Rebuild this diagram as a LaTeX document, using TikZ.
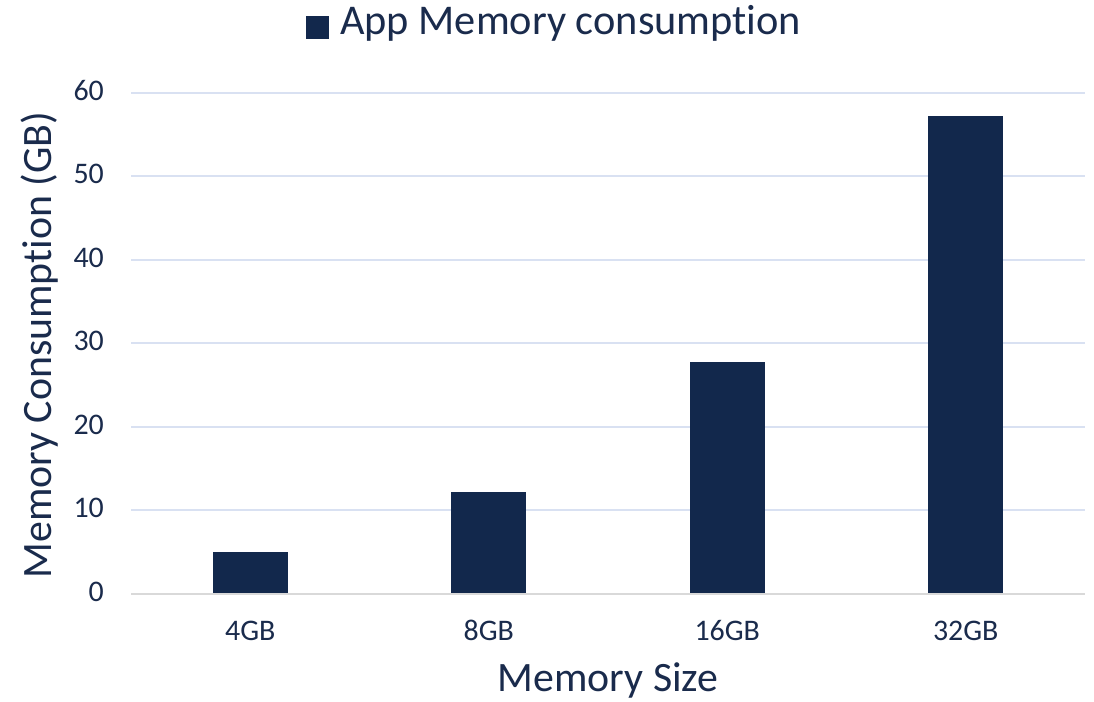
\documentclass[tikz,border=0pt]{standalone}
\usepackage{fontspec}
\setmainfont{Carlito}[Ligatures={NoCommon}]
\begin{document}
\begin{tikzpicture}[x=1bp,y=-1bp,
  ticklbl/.style={text=txtblue,font=\fontsize{30}{32}\selectfont,inner sep=0pt},
  titlelbl/.style={text=txtblue,font=\fontsize{42}{46}\selectfont,inner sep=0pt},
  grid/.style={draw=gridblue,line width=2bp},
  barbox/.style={fill=barblue,draw=none,inner sep=0pt,minimum width=75bp,anchor=south}]
\definecolor{barblue}{HTML}{12284C}
\definecolor{txtblue}{HTML}{1A2B4C}
\definecolor{gridblue}{HTML}{D9E1F2}
\definecolor{basegray}{HTML}{D9D9D9}
\useasboundingbox[fill=white] (0,0) rectangle (1094,702);
% horizontal grid and tick labels, 8.358 px per GB
\foreach \v in {10,20,...,60}{
  \coordinate (gl\v) at (131,594-8.358*\v);
  \coordinate (gr\v) at (1085,594-8.358*\v);
  \draw[grid] (gl\v) -- (gr\v);
}
\foreach \v in {0,10,...,60}{
  \node[ticklbl,anchor=base east] (t\v) at (104,601.5-8.358*\v) {\v};
}
\coordinate (bl) at (131,594);
\coordinate (br) at (1085,594);
% bars
\foreach \c/\lab/\val [count=\i] in {250.25/4GB/5.06, 488.75/8GB/12.15, 727.25/16GB/27.75, 965.75/32GB/57.15}{
  \node[barbox,minimum height=8.358*\val bp] (bar\i) at (\c,594) {};
  \node[ticklbl,anchor=base] (cat\i) at (\c,640) {\lab};
}
\draw[draw=basegray,line width=2bp] (bl) -- (br);
% axis titles
\node[titlelbl,anchor=base] (xtitle) at (608,691) {Memory Size};
\node[titlelbl,rotate=90,anchor=base] (ytitle) at (51,345) {Memory Consumption (GB)};
% legend
\node[fill=barblue,minimum size=23bp,inner sep=0pt] (legkey) at (317,27.5) {};
\node[text=txtblue,font=\fontsize{42.5}{46}\selectfont,inner sep=0pt,anchor=base west] (legtext) at (340,35) {App Memory consumption};
\end{tikzpicture}
\end{document}
